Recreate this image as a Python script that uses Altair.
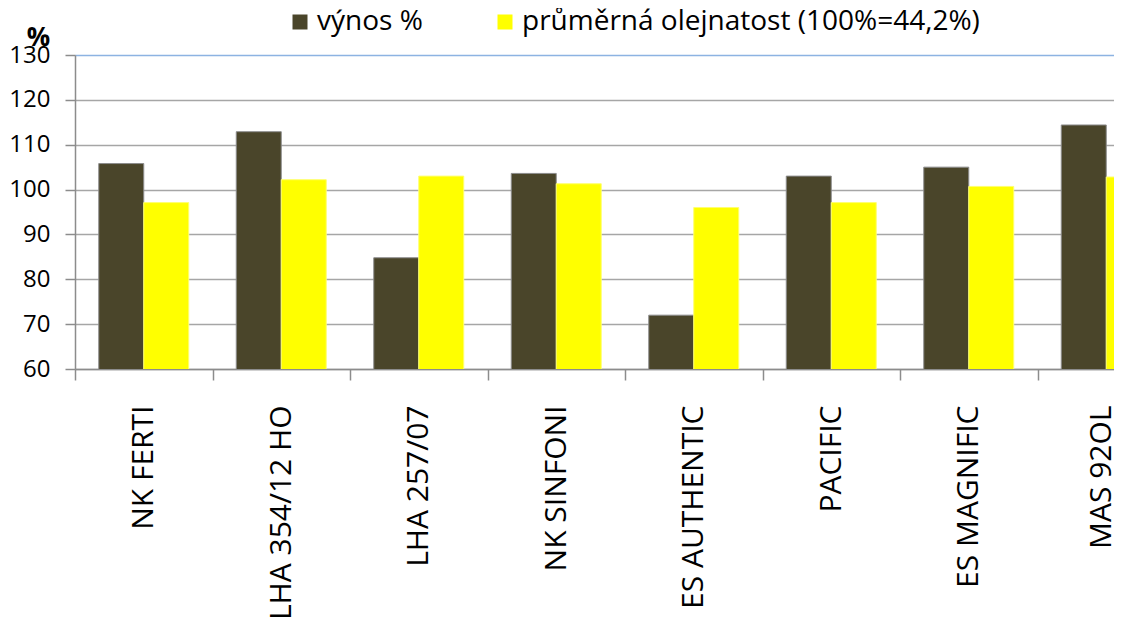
import altair as alt
import pandas as pd

categories = ["NK FERTI", "LHA 354/12 HO", "LHA 257/07", "NK SINFONI",
              "ES AUTHENTIC", "PACIFIC", "ES MAGNIFIC", "MAS 92OL"]
series_names = ["výnos %", "průměrná olejnatost (100%=44,2%)"]
vynos = [105.8, 112.9, 84.8, 103.6, 72.0, 103.0, 105.0, 114.4]
olejnatost = [97.1, 102.2, 103.0, 101.3, 96.0, 97.1, 100.7, 102.8]
y_ticks = [60, 70, 80, 90, 100, 110, 120, 130]
colors = ["#4A452A", "#FFFF00"]
strokes = ["#8C8C8C", "#FFFF70"]

rows = []
for i, c in enumerate(categories):
    rows.append({"odruda": c, "serie": series_names[0], "hodnota": vynos[i]})
    rows.append({"odruda": c, "serie": series_names[1], "hodnota": olejnatost[i]})
df = pd.DataFrame(rows)

FONT = "Open Sans"

chart = alt.Chart(df).mark_bar(strokeWidth=1, clip=True).encode(
    x=alt.X("odruda:N", sort=categories, title=None,
            scale=alt.Scale(range=[0, 1100], paddingInner=0, paddingOuter=0),
            axis=alt.Axis(labelAngle=-90, labelAlign="right", labelBaseline="middle",
                          labelFont=FONT, labelFontSize=30, labelColor="#000000",
                          labelPadding=25, labelLimit=1000,
                          labelOffset={"condition": {"test": "datum.value === 'MAS 92OL'", "value": -5},
                                       "value": 0},
                          tickBand="extent", tickSize=11, tickColor="#8C8C8C",
                          tickWidth=1.5, domainColor="#8C8C8C", domainWidth=1.5,
                          grid=False)),
    xOffset=alt.XOffset("serie:N", sort=series_names,
                        scale=alt.Scale(paddingInner=0, paddingOuter=0.528)),
    y=alt.Y("hodnota:Q", title="%",
            scale=alt.Scale(domain=[60, 130], nice=False, zero=False),
            axis=alt.Axis(values=y_ticks, labelFont=FONT, labelFontSize=24,
                          labelColor="#000000", labelPadding=15,
                          tickSize=10, tickColor="#8C8C8C", tickWidth=1.5,
                          domainColor="#8C8C8C", domainWidth=1.5,
                          grid=True,
                          gridColor={"condition": {"test": "datum.value === 130", "value": "#8DB3E2"},
                                     "value": "#A6A6A6"},
                          gridWidth=1.5,
                          titleAngle=0, titleAlign="center", titleBaseline="alphabetic",
                          titleX=-37, titleY=-10, titleFont=FONT, titleFontSize=26,
                          titleFontWeight="bold", titleColor="#000000")),
    color=alt.Color("serie:N", sort=series_names,
                    scale=alt.Scale(domain=series_names, range=colors),
                    legend=alt.Legend(orient="none", direction="horizontal",
                                      legendX=211, legendY=-47, title=None,
                                      symbolType="square", symbolSize=225,
                                      symbolStrokeWidth=0, symbolOpacity=1,
                                      labelFont=FONT, labelFontSize=28,
                                      labelColor="#000000", labelOffset=3,
                                      columnPadding=68, padding=0, labelLimit=1000)),
    stroke=alt.Stroke("serie:N", sort=series_names,
                      scale=alt.Scale(domain=series_names, range=strokes),
                      legend=None),
).properties(
    width=1039, height=314,
    autosize=alt.AutoSizeParams(type="none"),
    padding={"left": 67, "top": 47, "right": 0, "bottom": 249},
).configure_view(strokeWidth=0).configure(background="white")

chart.save("out.html", embed_options={"renderer": "svg", "actions": False})
